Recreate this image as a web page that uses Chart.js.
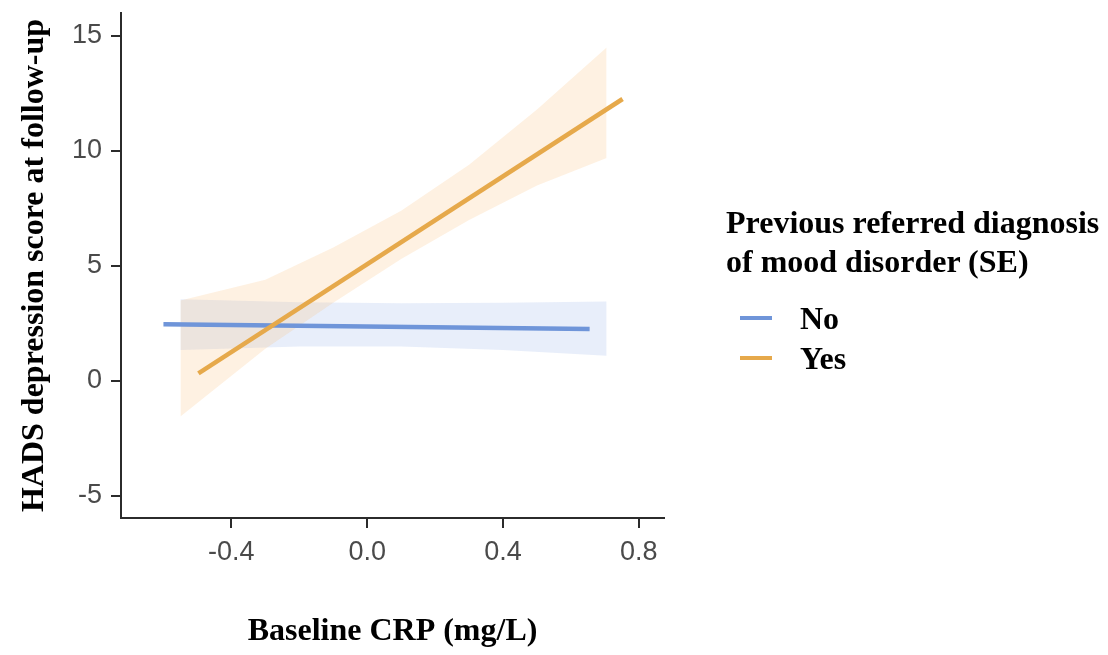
<!DOCTYPE html>
<html>
<head>
<meta charset="utf-8">
<script src="https://cdn.jsdelivr.net/npm/chart.js@4.4.1/dist/chart.umd.min.js"></script>
<style>
  html, body { margin: 0; padding: 0; background: #ffffff; }
  #wrap { position: relative; width: 1108px; height: 655px; overflow: hidden; }
  #c { position: absolute; left: 0; top: 0; }
  #legend { position: absolute; left: 726px; top: 203px; font-family: 'Liberation Serif', 'Times New Roman', serif; font-weight: bold; font-size: 32px; color: #000; }
  #legend .title { line-height: 39px; white-space: nowrap; }
  #legend .item { position: relative; height: 40px; line-height: 40px; white-space: nowrap; }
  #legend .sw { position: absolute; left: 14px; top: 18px; width: 32px; height: 4px; }
  #legend .lbl { position: absolute; left: 74px; top: 0; }
</style>
</head>
<body>
<div id="wrap">
  <canvas id="c" width="1108" height="655"></canvas>
  <div id="legend"></div>
</div>
<script>
// ---- data ----
const xTickValues = [-0.4, 0.0, 0.4, 0.8];
const yTickValues = [-5, 0, 5, 10, 15];
const seriesNames = ['No', 'Yes'];
const legendTitle = ['Previous referred diagnosis', 'of mood disorder (SE)'];
const xAxisTitle = 'Baseline CRP (mg/L)';
const yAxisTitle = 'HADS depression score at follow-up';

// fitted lines
const noLineX = [-0.600, 0.655];
const noLineY = [2.47, 2.26];
const yesLineX = [-0.497, 0.752];
const yesLineY = [0.33, 12.26];

// SE bands
const noBandX = [-0.55, -0.2, 0.1, 0.4, 0.705];
const noBandLower = [1.35, 1.50, 1.50, 1.35, 1.10];
const noBandUpper = [3.55, 3.42, 3.38, 3.40, 3.45];
const yesBandX = [-0.55, -0.3, -0.1, 0.1, 0.3, 0.5, 0.705];
const yesBandLower = [-1.55, 1.4, 3.4, 5.3, 7.0, 8.5, 9.7];
const yesBandUpper = [3.5, 4.4, 5.8, 7.4, 9.4, 11.8, 14.5];

// ---- styling ----
const colNo = '#6f95d9';
const colYes = '#e6a94b';
const bandNo = 'rgba(110,150,225,0.16)';
const bandYes = 'rgba(250,185,110,0.20)';

const pts = (xs, ys) => xs.map((x, i) => ({ x: x, y: ys[i] }));

const datasets = [
  { label: seriesNames[1], data: pts(yesLineX, yesLineY), showLine: true, borderColor: colYes, borderWidth: 4.5, pointRadius: 0, fill: false, order: 0, borderCapStyle: 'butt' },
  { label: seriesNames[0], data: pts(noLineX, noLineY), showLine: true, borderColor: colNo, borderWidth: 4.5, pointRadius: 0, fill: false, order: 1, borderCapStyle: 'butt' },
  { label: seriesNames[1] + ' SE lower', data: pts(yesBandX, yesBandLower), showLine: true, borderWidth: 0, borderColor: 'rgba(0,0,0,0)', pointRadius: 0, fill: false, order: 2 },
  { label: seriesNames[1] + ' SE upper', data: pts(yesBandX, yesBandUpper), showLine: true, borderWidth: 0, borderColor: 'rgba(0,0,0,0)', backgroundColor: bandYes, pointRadius: 0, fill: '-1', order: 2 },
  { label: seriesNames[0] + ' SE lower', data: pts(noBandX, noBandLower), showLine: true, borderWidth: 0, borderColor: 'rgba(0,0,0,0)', pointRadius: 0, fill: false, order: 3 },
  { label: seriesNames[0] + ' SE upper', data: pts(noBandX, noBandUpper), showLine: true, borderWidth: 0, borderColor: 'rgba(0,0,0,0)', backgroundColor: bandNo, pointRadius: 0, fill: '-1', order: 3 }
];

const axisCol = '#2b2b2b';
const tickFont = { family: "'Liberation Sans', Arial, sans-serif", size: 27 };
const titleFont = { family: "'Liberation Serif', 'Times New Roman', serif", size: 32, weight: 'bold' };

new Chart(document.getElementById('c'), {
  type: 'scatter',
  data: { datasets: datasets },
  options: {
    responsive: false,
    animation: false,
    devicePixelRatio: 1,
    layout: { padding: { left: 0, top: 13, right: 444, bottom: 0 } },
    plugins: {
      legend: { display: false },
      tooltip: { enabled: false },
      filler: { propagate: false }
    },
    scales: {
      x: {
        type: 'linear', position: 'bottom', min: -0.725, max: 0.874,
        afterBuildTicks: (s) => { s.ticks = xTickValues.map(v => ({ value: v })); },
        afterFit: (s) => { s.height = 137; s.paddingLeft = 0; s.paddingRight = 0; },
        ticks: { font: tickFont, color: '#4a4a4a', padding: 8, maxRotation: 0, autoSkip: false,
                 callback: (v) => Number(v).toFixed(1) },
        grid: { display: true, drawOnChartArea: false, drawTicks: true, tickLength: 10, color: axisCol, lineWidth: 2 },
        border: { display: true, color: axisCol, width: 2 },
        title: { display: true, text: xAxisTitle, font: titleFont, color: '#000', padding: { top: 0, bottom: 4 } }
      },
      y: {
        type: 'linear', position: 'left', min: -5.96, max: 16.0,
        afterBuildTicks: (s) => { s.ticks = yTickValues.map(v => ({ value: v })); },
        afterFit: (s) => { s.width = 121; s.paddingTop = 0; s.paddingBottom = 0; },
        ticks: { font: tickFont, color: '#4a4a4a', padding: 9, autoSkip: false,
                 callback: (v) => String(v) },
        grid: { display: true, drawOnChartArea: false, drawTicks: true, tickLength: 10, color: axisCol, lineWidth: 2 },
        border: { display: true, color: axisCol, width: 2 },
        title: { display: true, text: yAxisTitle, font: titleFont, color: '#000', padding: { top: 16, bottom: 0 } }
      }
    }
  }
});

// HTML legend built from series names / colours
const lg = document.getElementById('legend');
legendTitle.forEach(t => { const d = document.createElement('div'); d.className = 'title'; d.textContent = t; lg.appendChild(d); });
const gap = document.createElement('div'); gap.style.height = '17px'; lg.appendChild(gap);
[[seriesNames[0], colNo], [seriesNames[1], colYes]].forEach(([name, col]) => {
  const it = document.createElement('div'); it.className = 'item';
  const sw = document.createElement('span'); sw.className = 'sw'; sw.style.background = col;
  const lb = document.createElement('span'); lb.className = 'lbl'; lb.textContent = name;
  it.appendChild(sw); it.appendChild(lb); lg.appendChild(it);
});
</script>
</body>
</html>
